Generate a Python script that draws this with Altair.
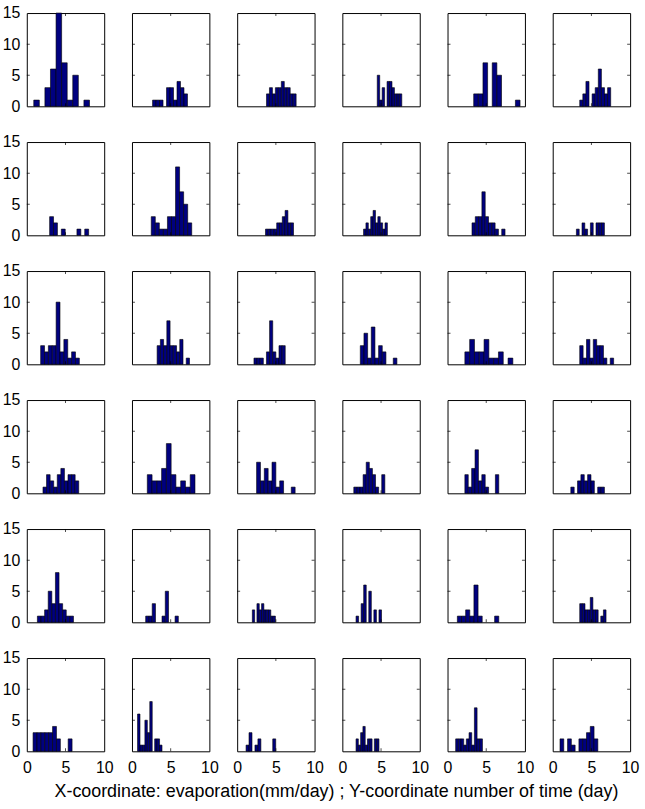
import altair as alt
import pandas as pd

# Histogram bin ranges (min, max of the data) per panel, row by row
RANGE_R1 = [(0.90, 8.10), (2.66, 7.17), (3.79, 7.62), (4.51, 7.68), (3.38, 9.37), (3.49, 7.49)]
RANGE_R2 = [(2.95, 7.99), (2.49, 7.72), (3.66, 7.28), (2.74, 5.82), (3.16, 7.43), (3.06, 6.68)]
RANGE_R3 = [(1.79, 6.79), (3.25, 7.43), (2.17, 6.21), (2.32, 7.05), (2.24, 8.44), (3.49, 7.87)]
RANGE_R4 = [(2.09, 6.71), (1.98, 8.14), (2.51, 7.49), (1.48, 5.49), (2.24, 6.62), (2.34, 6.68)]
RANGE_R5 = [(1.37, 6.03), (1.77, 5.99), (1.96, 4.94), (1.77, 5.06), (1.27, 6.62), (3.49, 6.89)]
RANGE_R6 = [(0.81, 5.85), (0.72, 3.88), (1.15, 4.98), (1.77, 4.73), (1.05, 4.51), (0.94, 5.83)]

# Counts in the 10 bins of each panel
COUNTS_R1 = [[1, 0, 3, 6, 15, 7, 1, 5, 0, 1], [1, 1, 1, 0, 3, 3, 1, 4, 3, 2],
             [2, 3, 2, 3, 3, 4, 3, 3, 2, 2], [5, 1, 3, 0, 4, 4, 3, 2, 2, 2],
             [2, 2, 7, 0, 7, 5, 0, 0, 0, 1], [1, 2, 4, 0, 2, 3, 6, 3, 2, 3]]
COUNTS_R2 = [[3, 2, 0, 1, 0, 0, 0, 1, 0, 1], [3, 2, 1, 1, 3, 3, 11, 7, 5, 2],
             [1, 1, 1, 1, 2, 2, 3, 4, 2, 2], [1, 2, 1, 3, 4, 2, 3, 2, 1, 2],
             [2, 3, 3, 7, 3, 2, 2, 1, 0, 1], [1, 0, 2, 1, 0, 2, 0, 2, 2, 2]]
COUNTS_R3 = [[3, 2, 3, 3, 10, 2, 4, 1, 2, 1], [3, 4, 3, 7, 3, 3, 2, 4, 0, 1],
             [1, 1, 1, 0, 2, 7, 2, 1, 3, 3], [3, 5, 1, 6, 1, 3, 2, 0, 0, 1],
             [2, 4, 2, 2, 4, 1, 1, 2, 0, 1], [3, 1, 4, 1, 4, 3, 3, 1, 0, 1]]
COUNTS_R4 = [[1, 3, 2, 1, 3, 4, 2, 3, 3, 2], [3, 2, 2, 4, 8, 3, 1, 2, 1, 3],
             [5, 2, 4, 2, 5, 1, 2, 0, 0, 1], [1, 1, 1, 3, 5, 4, 3, 1, 0, 3],
             [3, 1, 4, 7, 2, 3, 1, 0, 0, 3], [1, 0, 2, 3, 2, 3, 2, 0, 1, 1]]
COUNTS_R5 = [[1, 1, 2, 5, 3, 8, 3, 2, 1, 1], [1, 1, 3, 0, 0, 1, 5, 0, 0, 1],
             [2, 0, 3, 2, 3, 2, 2, 2, 1, 1], [1, 0, 3, 6, 0, 5, 0, 2, 0, 2],
             [1, 1, 2, 1, 6, 1, 0, 0, 0, 1], [3, 3, 2, 2, 4, 2, 2, 0, 1, 2]]
COUNTS_R6 = [[3, 3, 3, 3, 3, 4, 2, 0, 0, 2], [6, 1, 1, 5, 3, 8, 0, 2, 2, 1],
             [1, 3, 0, 1, 2, 0, 0, 0, 0, 2], [2, 1, 3, 4, 1, 2, 2, 0, 2, 2],
             [2, 2, 2, 1, 2, 3, 1, 7, 2, 2], [2, 0, 2, 1, 0, 2, 2, 3, 4, 2]]

X_TICKS = [0, 5, 10]
Y_TICKS = [0, 5, 10, 15]
INNER_X_TICKS = [5]
INNER_Y_TICKS = [5, 10]
TITLE = "X-coordinate: evaporation(mm/day) ; Y-coordinate number of time (day)"

RANGES = [RANGE_R1, RANGE_R2, RANGE_R3, RANGE_R4, RANGE_R5, RANGE_R6]
COUNTS = [COUNTS_R1, COUNTS_R2, COUNTS_R3, COUNTS_R4, COUNTS_R5, COUNTS_R6]

FONT = "Liberation Sans"
PW, PH = 78, 94

xs = alt.Scale(domain=[0, 10], nice=False, zero=False)
ys = alt.Scale(domain=[0, 15], nice=False)

# inward tick marks (clipped half-ticks) on all four sides
tick_v = pd.DataFrame({"x0": [t for t in INNER_X_TICKS for _ in (0, 15)],
                       "count": [e for _ in INNER_X_TICKS for e in (0, 15)]})
tick_h = pd.DataFrame({"x0": [e for _ in INNER_Y_TICKS for e in (0, 10)],
                       "count": [t for t in INNER_Y_TICKS for _ in (0, 10)]})


def panel(r, c):
    lo, hi = RANGES[r][c]
    cnts = COUNTS[r][c]
    w = (hi - lo) / len(cnts)
    rows = []
    for i, n in enumerate(cnts):
        if n > 0:
            rows.append({"x0": lo + i * w, "x1": lo + (i + 1) * w, "count": n, "base": 0})
    df = pd.DataFrame(rows)
    if r == 5:
        xaxis = alt.Axis(values=X_TICKS, title=None, ticks=False, domain=False, grid=False,
                         labelFlush=False, labelFont=FONT, labelFontSize=16,
                         labelColor="#000", labelPadding=8)
    else:
        xaxis = None
    if c == 0:
        yaxis = alt.Axis(values=Y_TICKS, title=None, ticks=False, domain=False, grid=False,
                         labelFlush=False, labelFont=FONT, labelFontSize=16,
                         labelColor="#000", labelPadding=7)
    else:
        yaxis = None
    bars = alt.Chart(df).mark_rect(fill="#00007F", stroke="#000000", strokeWidth=0.6).encode(
        x=alt.X("x0:Q", scale=xs, axis=xaxis),
        x2="x1:Q",
        y=alt.Y("count:Q", scale=ys, axis=yaxis),
        y2="base:Q",
    )
    tv = alt.Chart(tick_v).mark_tick(orient="vertical", size=6, thickness=1, clip=True,
                                     color="#000").encode(
        x=alt.X("x0:Q", scale=xs, axis=xaxis), y=alt.Y("count:Q", scale=ys, axis=yaxis))
    th = alt.Chart(tick_h).mark_tick(orient="horizontal", size=6, thickness=1, clip=True,
                                     color="#000").encode(
        x=alt.X("x0:Q", scale=xs, axis=xaxis), y=alt.Y("count:Q", scale=ys, axis=yaxis))
    return alt.layer(bars, tv, th).properties(width=PW, height=PH)


panels = [panel(r, c) for r in range(6) for c in range(6)]

chart = alt.concat(*panels, columns=6, spacing={"row": 36, "column": 28}, bounds="flush").properties(
    padding={"left": 1, "top": 1, "right": 5, "bottom": 5},
    title=alt.TitleParams(TITLE, orient="bottom", anchor="middle", font=FONT, fontSize=18,
                          fontWeight="normal", color="#000", offset=8, dx=16),
    background="white",
).configure_view(stroke="#000", strokeWidth=1)

chart.save("out.html", embed_options={"renderer": "svg", "actions": False})
